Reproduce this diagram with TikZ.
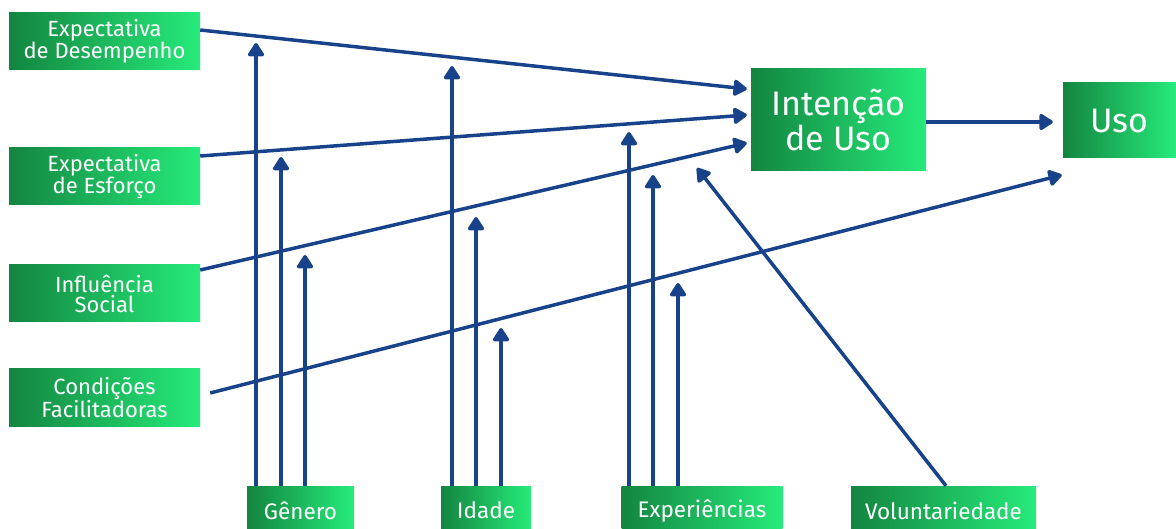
\documentclass[tikz,border=0pt]{standalone}
\usepackage{fontspec}
\setmainfont{Fira Sans}
\usetikzlibrary{arrows.meta}
\definecolor{gdark}{RGB}{19,133,64}
\definecolor{glight}{RGB}{38,235,122}
\definecolor{lblue}{RGB}{24,67,138}
\tikzset{
  gbox/.style={rectangle, inner sep=0pt, left color=gdark, right color=glight, draw=none,
    text=white, align=center, font=\fontsize{22}{20}\selectfont},
  botbox/.style={gbox, font=\fontsize{22.5}{22.5}\selectfont},
  bigbox/.style={gbox, font=\fontsize{34}{29}\selectfont},
  conn/.style={draw=lblue, line width=3.5pt, -{Triangle[round, length=15pt, width=18pt]}},
}
\begin{document}
\begin{tikzpicture}[x=1pt,y=-1pt]
\useasboundingbox (0,0) rectangle (1176,529);
\clip (0,0) rectangle (1176,529);
% boxes
\node[gbox, minimum width=191pt, minimum height=57pt] (ed) at (104.5,41.5) {Expectativa\\de Desempenho};
\node[gbox, minimum width=191pt, minimum height=57pt] (ee) at (104.5,176.5) {Expectativa\\de Esforço};
\node[gbox, minimum width=191pt, minimum height=57pt] (is) at (104.5,293.5) {Influência\\Social};
\node[gbox, minimum width=191pt, minimum height=57pt] (cf) at (104.5,397.5) {Condições\\Facilitadoras};
\node[bigbox, minimum width=175pt, minimum height=102pt] (it) at (838.5,120) {Intenção\\de Uso};
\node[bigbox, minimum width=113pt, minimum height=75pt] (uso) at (1119.5,120.5) {Uso};
\node[botbox, minimum width=107pt, minimum height=49pt] (ge) at (300.5,510.5) {Gênero};
\node[botbox, minimum width=90pt, minimum height=49pt] (id) at (486,510.5) {Idade};
\node[botbox, minimum width=161pt, minimum height=49pt] (ex) at (702,510.5) {Experiências};
\node[botbox, minimum width=185pt, minimum height=49pt] (vo) at (943.5,510.5) {Voluntariedade};
% free arrow tips
\coordinate (g1) at (256,43);
\coordinate (g2) at (281,157);
\coordinate (g3) at (305,255);
\coordinate (i1) at (452,66);
\coordinate (i2) at (476,217);
\coordinate (i3) at (501,328);
\coordinate (e1) at (629,132);
\coordinate (e2) at (653,175);
\coordinate (e3) at (678,283);
\coordinate (v1) at (697,168);
% vertical moderators
\draw[conn] ([xshift=-44.5pt]ge.north) -- (g1);
\draw[conn] ([xshift=-19.5pt]ge.north) -- (g2);
\draw[conn] ([xshift=4.5pt]ge.north) -- (g3);
\draw[conn] ([xshift=-34pt]id.north) -- (i1);
\draw[conn] ([xshift=-10pt]id.north) -- (i2);
\draw[conn] ([xshift=15pt]id.north) -- (i3);
\draw[conn] ([xshift=-73pt]ex.north) -- (e1);
\draw[conn] ([xshift=-49pt]ex.north) -- (e2);
\draw[conn] ([xshift=-24pt]ex.north) -- (e3);
\draw[conn] ([xshift=2.5pt]vo.north) -- (v1);
% main paths
\draw[conn] ([yshift=11.5pt]ed.east) -- ([xshift=-4pt,yshift=31pt]it.west);
\draw[conn] ([yshift=20.5pt]ee.east) -- ([xshift=-4pt,yshift=5pt]it.west);
\draw[conn] ([yshift=23.5pt]is.east) -- ([xshift=-4pt,yshift=-23pt]it.west);
\draw[conn] ([xshift=10pt,yshift=4.5pt]cf.east) -- ([xshift=-1pt,yshift=-54.5pt]uso.west);
\draw[conn] ([yshift=-2pt]it.east) -- ([xshift=-10pt,yshift=-1.5pt]uso.west);
\end{tikzpicture}
\end{document}
